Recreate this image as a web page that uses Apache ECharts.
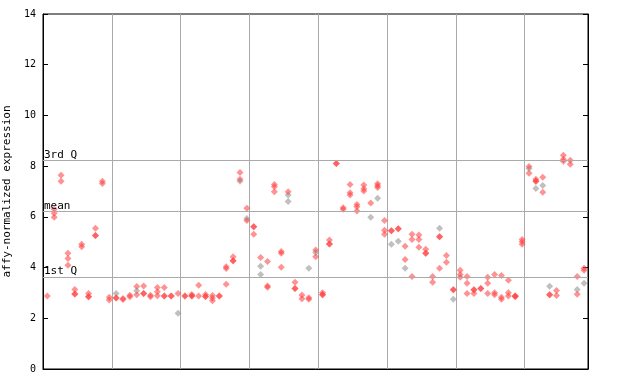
<!DOCTYPE html>
<html><head><meta charset="utf-8">
<script src="https://cdn.jsdelivr.net/npm/echarts@6/dist/echarts.min.js"></script>
<style>html,body{margin:0;padding:0;background:#fff}#c{width:640px;height:384px}</style>
</head><body><div id="c"></div>
<script>
// values per sample column (left to right)
const redValues = [
 [2.88],[6.30,6.14,5.98],[7.64,7.40],[4.56,4.36,4.09],[3.14,2.96,2.96],[4.92,4.82],[2.98,2.85,2.85],[5.55,5.26,5.26],[7.40,7.32],[2.83,2.72],
 [2.80,2.80],[2.78,2.74],[2.91,2.85],[3.25,2.93],[3.27,2.98,2.98],[2.91,2.85],[3.21,3.05,2.89],[3.21,2.88,2.88],[2.88,2.88],[2.98],
 [2.88,2.88],[2.94,2.88,2.88],[3.30,2.88],[2.94,2.86,2.86],[2.90,2.80,2.69],[2.88,2.88],[4.03,3.96,3.34],[4.43,4.27,4.27],[7.75,7.48],[6.34,5.86],
 [5.61,5.61,5.31],[4.40],[4.24,3.27,3.22],[7.28,7.19,6.99],[4.63,4.56,4.01],[6.99],[3.42,3.17,3.17],[2.92,2.77],[2.81,2.75],[4.69,4.43],
 [3.01,2.93,2.93],[5.09,4.93,4.93],[8.10,8.10],[6.36,6.30],[7.28,6.95,6.86],[6.49,6.40,6.23],[7.26,7.11,7.02],[6.55],[7.31,7.23,7.16],[5.86,5.47,5.31],
 [5.45,5.45],[5.53,5.53],[4.84,4.32],[5.31,5.11,3.65],[5.28,5.11,4.80],[4.72,4.56,4.56],[3.65,3.42],[5.22,5.22,3.97],[4.48,4.21],[3.13,3.13],
 [3.89,3.73,3.62],[3.65,3.38,2.98],[3.13,3.13,2.98],[3.17,3.17],[3.62,3.38,2.98],[3.73,3.01,2.93],[3.69,2.83,2.75],[3.50,3.01,2.88],[2.88,2.88,2.85],[5.11,5.02,4.92],
 [7.99,7.72],[7.48,7.40,7.40],[7.56,6.97],[2.93,2.93],[3.10,2.90],[8.43,8.27,8.19],[8.23,8.07],[3.65,2.95],[3.97,3.89]
];
const greyValues = [
 [],[],[],[],[],[],[],[],[],[],
 [2.98],[],[],[3.09],[],[],[],[],[],[2.20],
 [],[],[],[],[],[],[],[],[7.40],[5.94],
 [],[4.05,3.73],[],[],[],[6.86,6.61],[],[],[3.97],[4.59],
 [],[],[],[],[],[],[],[5.98],[6.73],[],
 [4.92],[5.04],[3.97],[],[],[],[],[5.55],[],[2.75],
 [],[],[],[],[],[],[],[],[],[],
 [7.91],[7.12],[7.24],[3.26],[],[],[],[3.14],[3.38]
];
const quartileValues = [8.23, 6.22, 3.63];
const quartileLabels = ['3rd Q', 'mean', '1st Q'];
const yTicks = [0, 2, 4, 6, 8, 10, 12, 14];
const yTitle = 'affy-normalized expression';

const X_OFFSET = 0.625;
function toPoints(cols) {
  const pts = [];
  cols.forEach((vals, i) => vals.forEach(v => pts.push([i + X_OFFSET, v])));
  return pts;
}
const mono = 'DejaVu Sans Mono';
const chart = echarts.init(document.getElementById('c'), null, {renderer: 'canvas'});
chart.setOption({
  animation: false,
  backgroundColor: '#fff',
  grid: {left: 43, right: 52, top: 14, bottom: 15, containLabel: false, outerBoundsMode: 'none',
         show: true, borderColor: '#000', borderWidth: 1, backgroundColor: 'transparent'},
  xAxis: {
    type: 'value', min: 0, max: 79.2, interval: 10,
    axisLine: {show: true, lineStyle: {color: '#000'}},
    axisTick: {show: false}, axisLabel: {show: false},
    splitLine: {show: true, showMinLine: false, showMaxLine: false, lineStyle: {color: '#aaaaaa', width: 1}}
  },
  yAxis: [{
    type: 'value', min: yTicks[0], max: yTicks[yTicks.length - 1], interval: 2,
    name: yTitle, nameLocation: 'middle', nameRotate: 90, nameGap: 20,
    nameTextStyle: {fontFamily: mono, fontSize: 11, color: '#000'},
    axisLine: {show: true, lineStyle: {color: '#000'}},
    axisTick: {show: true, inside: true, length: 5, lineStyle: {color: '#000'}},
    axisLabel: {fontFamily: mono, fontSize: 10, color: '#000', margin: 7},
    splitLine: {show: false}
  }, {
    type: 'value', min: yTicks[0], max: yTicks[yTicks.length - 1], interval: 2, position: 'right',
    axisLine: {show: true, lineStyle: {color: '#000'}},
    axisTick: {show: true, inside: true, length: 5, lineStyle: {color: '#000'}},
    axisLabel: {show: false}, splitLine: {show: false}
  }],
  series: [{
    type: 'scatter', symbol: 'diamond', symbolSize: 7,
    itemStyle: {color: '#ff3b3b', opacity: 0.55},
    data: [],
    markLine: {
      silent: true, symbol: 'none', animation: false,
      lineStyle: {color: '#aaaaaa', type: 'solid', width: 1},
      label: {show: true, position: 'insideStartTop', distance: [1, 0], fontFamily: mono, fontSize: 11, color: '#000',
              formatter: p => quartileLabels[quartileValues.indexOf(p.value)]},
      data: quartileValues.map(v => ({yAxis: v}))
    },
    z: 1
  }, {
    type: 'scatter', symbol: 'diamond', symbolSize: 7,
    itemStyle: {color: '#8c8c8c', opacity: 0.55},
    data: toPoints(greyValues), z: 3
  }, {
    type: 'scatter', symbol: 'diamond', symbolSize: 7,
    itemStyle: {color: '#ff3b3b', opacity: 0.55},
    data: toPoints(redValues), z: 4
  }]
});
</script></body></html>
